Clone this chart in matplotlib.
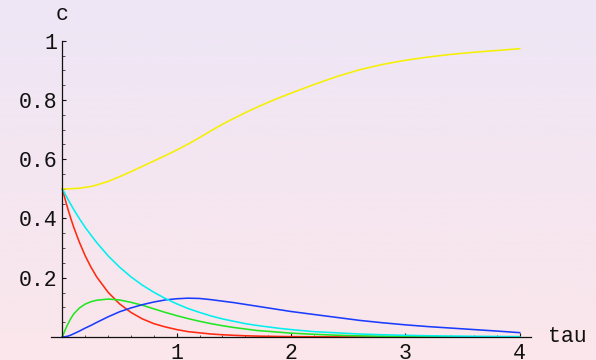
import numpy as np
import matplotlib
matplotlib.use("Agg")
import matplotlib.pyplot as plt
from matplotlib.ticker import FixedLocator

# ---- data ----
tau = [0, 0.025, 0.05, 0.075, 0.1, 0.15, 0.2, 0.25, 0.3,
       0.4, 0.5, 0.6, 0.7, 0.8, 0.9, 1.0, 1.1, 1.2, 1.3, 1.4, 1.5, 1.6, 1.7, 1.8, 1.9, 2.0,
       2.2, 2.4, 2.6, 2.8, 3.0, 3.2, 3.4, 3.6, 3.8, 4.0]
c_red = [0.5, 0.464, 0.430, 0.399, 0.370, 0.319, 0.274, 0.236, 0.203,
         0.151, 0.112, 0.083, 0.061, 0.045, 0.034, 0.025, 0.018, 0.014, 0.010, 0.0075,
         0.0056, 0.0041, 0.0030, 0.0023, 0.0017, 0.0012,
         0.0007, 0.0004, 0.0002, 0.0001, 0.0001, 0, 0, 0, 0, 0]
c_cyan = [0.5, 0.482, 0.464, 0.447, 0.430, 0.399, 0.370, 0.344, 0.319,
          0.274, 0.236, 0.203, 0.175, 0.151, 0.130, 0.112, 0.096, 0.083, 0.071, 0.061,
          0.053, 0.045, 0.039, 0.034, 0.029, 0.025,
          0.018, 0.014, 0.010, 0.0075, 0.0056, 0.0041, 0.0030, 0.0023, 0.0017, 0.0012]
c_green = [0, 0.024, 0.045, 0.063, 0.078, 0.098, 0.111, 0.119, 0.124,
           0.128, 0.125, 0.117, 0.107, 0.095, 0.083, 0.072, 0.062, 0.053, 0.045, 0.038,
           0.032, 0.027, 0.022, 0.019, 0.016, 0.013,
           0.009, 0.0058, 0.0038, 0.0025, 0.0017, 0.0011, 0.0007, 0.0005, 0.0003, 0.0002]
c_blue = [0, 0.0008, 0.003, 0.0065, 0.011, 0.020, 0.030, 0.039, 0.049,
          0.068, 0.085, 0.098, 0.109, 0.118, 0.125, 0.129, 0.131, 0.130, 0.126, 0.121,
          0.116, 0.110, 0.104, 0.098, 0.092, 0.086,
          0.076, 0.066, 0.056, 0.048, 0.041, 0.035, 0.030, 0.025, 0.020, 0.0146]
c_yellow = [0.5, 0.5, 0.5, 0.5005, 0.501, 0.502, 0.505, 0.508, 0.513,
            0.525, 0.541, 0.558, 0.576, 0.594, 0.612, 0.631, 0.651, 0.673, 0.696, 0.718,
            0.738, 0.757, 0.775, 0.792, 0.808, 0.823,
            0.852, 0.879, 0.902, 0.920, 0.934, 0.945, 0.954, 0.961, 0.967, 0.973]

x_ticks = [1, 2, 3, 4]
x_ticklabels = ["1", "2", "3", "4"]
y_ticks = [0.2, 0.4, 0.6, 0.8, 1.0]
y_ticklabels = ["0.2", "0.4", "0.6", "0.8", "1"]

MONO = ["Liberation Mono", "DejaVu Sans Mono"]
FS = 15.5

fig = plt.figure(figsize=(5.96, 3.6), dpi=100)

# gradient background
bg = fig.add_axes([0, 0, 1, 1])
top = np.array([238, 230, 246]) / 255.0
bot = np.array([251, 230, 235]) / 255.0
t = np.linspace(0, 1, 256)[:, None]
grad = top[None, :] * (1 - t) + bot[None, :] * t
grad = np.repeat(grad[:, None, :], 2, axis=1)
bg.imshow(grad, aspect="auto", extent=[0, 1, 0, 1], origin="upper")
bg.set_axis_off()

ax = fig.add_axes([50.9 / 596, (360 - 342.9) / 360, 480.2 / 596, 308.1 / 360])
ax.patch.set_alpha(0)
ax.set_xlim(-0.1, 4.1)
ax.set_ylim(-0.02, 1.02)

lw = 1.15
ax.plot(tau, c_red, color="#ff2a10", lw=lw, clip_on=False, solid_joinstyle="round")
ax.plot(tau, c_green, color="#22e622", lw=lw, clip_on=False, solid_joinstyle="round")
ax.plot(tau, c_blue, color="#1a3cff", lw=lw, clip_on=False, solid_joinstyle="round")
ax.plot(tau, c_cyan, color="#00f0f0", lw=lw, clip_on=False, solid_joinstyle="round")
ax.plot(tau, c_yellow, color="#f5f000", lw=lw, clip_on=False, solid_joinstyle="round")

for s in ["top", "right"]:
    ax.spines[s].set_visible(False)
ax.spines["left"].set_position(("data", 0))
ax.spines["bottom"].set_position(("data", 0))
ax.spines["left"].set_bounds(0, 1)
ax.spines["bottom"].set_bounds(-0.1, 4.1)
for s in ["left", "bottom"]:
    ax.spines[s].set_linewidth(0.9)
    ax.spines[s].set_color("#111111")

ax.xaxis.set_major_locator(FixedLocator(x_ticks))
ax.set_xticklabels(x_ticklabels)
ax.xaxis.set_minor_locator(FixedLocator([v for v in np.arange(0.2, 4.0, 0.2)
                                         if abs(v - round(v)) > 1e-6]))
ax.yaxis.set_major_locator(FixedLocator(y_ticks))
ax.set_yticklabels(y_ticklabels)
ax.yaxis.set_minor_locator(FixedLocator([v for v in np.arange(0.05, 1.0, 0.05)
                                         if abs(v * 5 - round(v * 5)) > 1e-6]))

ax.tick_params(axis="both", which="major", direction="in", length=3, width=0.8,
               color="#111111", labelsize=FS, labelcolor="#111111")
ax.tick_params(axis="both", which="minor", direction="in", length=1.8, width=0.6,
               color="#333333")
ax.tick_params(axis="y", which="major", pad=3.5)
ax.tick_params(axis="x", which="major", pad=4)
for lab in ax.get_xticklabels() + ax.get_yticklabels():
    lab.set_family(MONO)

fig.text(62 / 596, 1 - 15 / 360, "c", family=MONO, fontsize=FS, color="#111111",
         ha="center", va="center")
fig.text(548 / 596, 1 - 337 / 360, "tau", family=MONO, fontsize=FS, color="#111111",
         ha="left", va="center")

fig.savefig("out.png", dpi=100)
